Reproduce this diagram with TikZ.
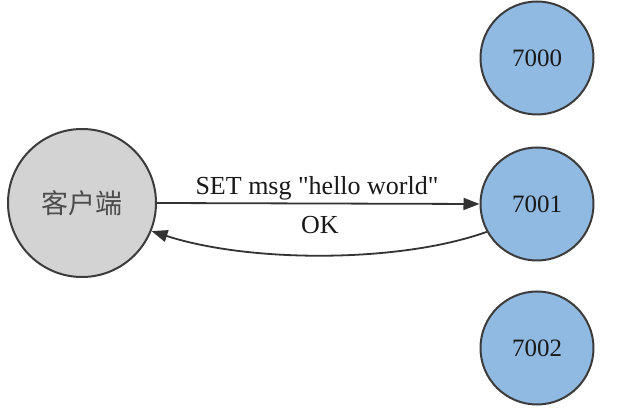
\documentclass[tikz,border=0pt]{standalone}
\usepackage{fontspec}
\setmainfont{Liberation Serif}
\newfontfamily\cjk{Noto Sans CJK SC}
\usetikzlibrary{arrows.meta}
\definecolor{clientfill}{RGB}{211,211,211}
\definecolor{nodefill}{RGB}{145,186,226}
\definecolor{edgecol}{RGB}{60,60,60}
\tikzset{
  client/.style={circle, draw=edgecol, line width=2pt, fill=clientfill, minimum size=148pt, inner sep=0pt, font=\cjk\fontsize{27}{30}\selectfont, text=black!70},
  server/.style={circle, draw=edgecol, line width=2pt, fill=nodefill, minimum size=113pt, inner sep=0pt, font=\fontsize{25}{28}\selectfont, text=black!90},
  link/.style={draw=black!80, line width=1.8pt, -{Triangle[length=16pt,width=12pt]}},
  lbl/.style={font=\fontsize{26}{28}\selectfont, text=black!90, inner sep=0pt}
}
\begin{document}
\begin{tikzpicture}[x=1pt,y=-1pt]
\useasboundingbox (0,0) rectangle (643,419);
\fill[white] (0,0) rectangle (643,419);
\node[client] (c) at (82,203) {客户端};
\node[server] (a) at (537,58) {7000};
\node[server] (b) at (537,204) {7001};
\node[server] (d) at (537,348) {7002};
\draw[link] (c.east) -- (b.west);
\draw[link] (b.-151) .. controls (400,263) and (250,263) .. (c.-22);
\node[lbl] (t1) at (317,188) {SET msg \textquotedbl hello world\textquotedbl};
\node[lbl] (t2) at (320,225) {OK};
\end{tikzpicture}
\end{document}
